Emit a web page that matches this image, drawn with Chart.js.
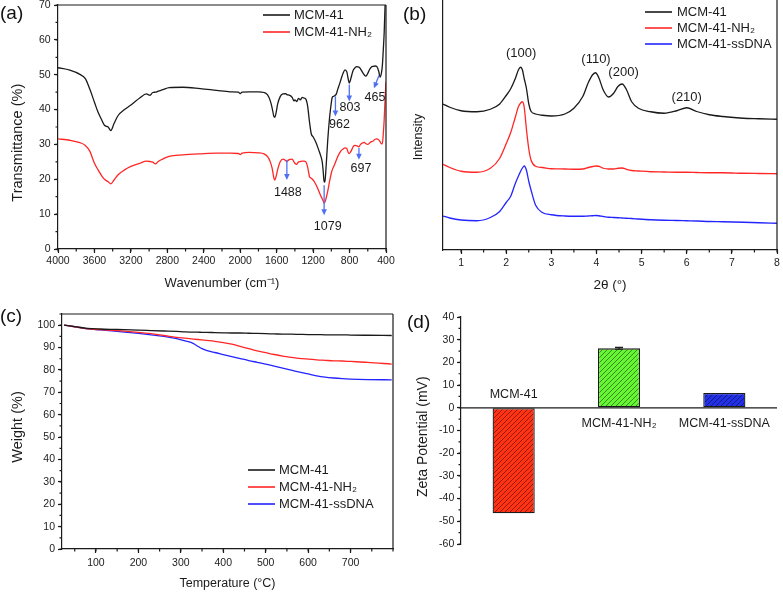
<!doctype html>
<html lang="en">
<head>
<meta charset="UTF-8" />
<title>MCM-41 characterisation</title>
<script src="https://cdn.jsdelivr.net/npm/chart.js"></script>
<style>
  html, body { margin: 0; padding: 0; background: #fff; }
  #fig { position: relative; width: 783px; height: 594px; overflow: hidden; font-family: "Liberation Sans", Arial, sans-serif; }
  #fig canvas { position: absolute; }
  .tag { position: absolute; font-size: 19px; line-height: 1; color: #111; }
</style>
</head>
<body>
<div id="fig">
  <canvas id="ftir"></canvas>
  <canvas id="xrd"></canvas>
  <canvas id="tga"></canvas>
  <canvas id="zeta"></canvas>
  <div class="tag" style="left:0px;top:3px">(a)</div>
  <div class="tag" style="left:403px;top:4px">(b)</div>
  <div class="tag" style="left:0px;top:306px">(c)</div>
  <div class="tag" style="left:407px;top:312px">(d)</div>
</div>
<script>
// ---- (a) FTIR ----
const ftirWavenumber = [4000, 3870, 3760, 3700, 3650, 3600, 3560, 3520, 3490, 3450, 3420, 3385, 3340, 3270, 3200, 3100, 3030, 2990, 2960, 2930, 2900, 2850, 2780, 2630, 2440, 2260, 2110, 2020, 2000, 1980, 1900, 1800, 1740, 1700, 1670, 1650, 1630, 1620, 1600, 1590, 1560, 1530, 1500, 1488, 1470, 1450, 1430, 1410, 1400, 1380, 1360, 1340, 1320, 1300, 1280, 1260, 1240, 1220, 1200, 1180, 1160, 1140, 1120, 1100, 1090, 1079, 1070, 1060, 1040, 1020, 1000, 990, 975, 962, 945, 930, 910, 890, 870, 850, 830, 815, 803, 790, 775, 760, 740, 720, 697, 680, 660, 640, 620, 600, 580, 560, 540, 520, 500, 480, 465, 450, 440, 430, 420, 410, 400];
const ftirMcm41 = [52.0, 51.3, 50.1, 48.9, 45.8, 42.1, 39.2, 37.0, 35.5, 35.0, 34.0, 36.0, 38.3, 40.0, 41.3, 43.4, 44.5, 44.1, 44.9, 45.0, 45.3, 45.7, 46.3, 46.4, 46.0, 45.5, 45.1, 45.0, 44.6, 45.0, 45.1, 45.1, 44.9, 44.2, 42.5, 40.5, 38.0, 37.8, 40.0, 41.5, 43.8, 44.5, 44.6, 44.3, 44.2, 44.0, 43.5, 42.5, 42.8, 42.3, 43.2, 42.8, 43.5, 43.3, 43.0, 41.0, 36.5, 33.0, 32.2, 31.2, 30.0, 28.5, 27.0, 25.0, 22.5, 19.2, 19.5, 22.5, 31.0, 37.5, 42.0, 43.5, 43.8, 44.0, 44.5, 45.8, 47.3, 49.0, 50.5, 51.4, 50.8, 48.8, 47.6, 48.5, 50.0, 51.3, 52.0, 52.3, 52.2, 51.7, 50.8, 50.0, 49.6, 50.4, 51.5, 52.2, 52.4, 52.5, 52.3, 51.0, 49.3, 50.5, 52.6, 57.0, 62.0, 70.0, 74.0];
const ftirMcm41Nh2 = [31.6, 31.2, 30.5, 29.7, 28.0, 24.6, 22.7, 21.0, 20.0, 19.3, 18.7, 19.8, 21.3, 22.7, 23.7, 24.6, 25.2, 25.1, 24.9, 24.4, 25.1, 25.8, 26.6, 27.0, 27.3, 27.5, 27.5, 27.4, 27.1, 27.5, 27.7, 27.6, 27.3, 26.5, 25.0, 23.2, 20.3, 19.8, 21.5, 22.7, 25.1, 25.8, 25.3, 25.1, 25.5, 25.7, 25.8, 25.0, 24.6, 24.3, 25.0, 25.1, 25.2, 25.2, 25.0, 23.5, 20.8, 20.3, 19.8, 19.0, 18.0, 16.8, 15.5, 14.4, 13.8, 13.2, 13.5, 14.3, 16.5, 19.3, 21.8, 22.7, 23.6, 24.4, 25.5, 26.5, 27.5, 28.3, 28.7, 29.0, 28.8, 27.7, 27.4, 27.8, 28.5, 29.4, 29.7, 29.6, 29.3, 30.0, 30.4, 30.6, 30.2, 30.0, 30.4, 30.8, 31.0, 31.5, 31.6, 31.3, 30.8, 30.2, 30.2, 33.0, 37.0, 43.0, 48.0];
const ftirTicksX = [4000, 3600, 3200, 2800, 2400, 2000, 1600, 1200, 800, 400];
const ftirTicksY = [0, 10, 20, 30, 40, 50, 60, 70];
const ftirPeakLabels = ['1488', '1079', '962', '803', '697', '465'];

// ---- (b) XRD ----
const xrdTwoTheta = [0.6, 0.75, 1.0, 1.35, 1.65, 1.85, 2.0, 2.1, 2.2, 2.27, 2.32, 2.36, 2.4, 2.45, 2.5, 2.55, 2.65, 2.8, 3.0, 3.3, 3.5, 3.7, 3.82, 3.92, 3.98, 4.05, 4.15, 4.27, 4.38, 4.48, 4.57, 4.66, 4.78, 4.93, 5.2, 5.5, 5.78, 6.0, 6.22, 6.5, 6.8, 7.25, 7.6, 8.0];
const xrdMcm41 = [58.4, 57.1, 55.7, 55.3, 56.3, 58.3, 61.8, 64.5, 68.5, 72.0, 73.1, 72.0, 68.5, 64.5, 58.5, 55.5, 54.4, 53.9, 53.6, 54.4, 56.7, 61.5, 67.0, 70.2, 70.9, 69.0, 64.0, 61.2, 62.7, 65.5, 66.4, 64.3, 59.3, 56.7, 55.3, 54.7, 55.7, 56.9, 55.4, 54.1, 53.4, 52.7, 52.5, 52.3];
const xrdMcm41Nh2 = [34.3, 33.0, 31.5, 31.1, 32.7, 36.5, 42.5, 47.0, 53.0, 57.3, 58.8, 59.3, 57.0, 48.0, 40.5, 36.0, 33.5, 33.0, 32.5, 32.4, 32.3, 32.4, 33.0, 33.4, 33.6, 33.5, 32.7, 32.4, 32.4, 32.7, 32.8, 32.3, 31.8, 31.6, 31.3, 31.2, 31.1, 31.1, 31.0, 30.9, 30.9, 30.7, 30.6, 30.5];
const xrdMcm41Dna = [13.6, 12.8, 12.0, 11.7, 13.0, 15.3, 19.0, 21.5, 26.5, 29.5, 31.5, 32.8, 33.6, 31.8, 27.5, 24.0, 18.0, 15.0, 14.1, 13.6, 13.5, 13.5, 13.6, 13.7, 13.8, 13.7, 13.4, 13.1, 13.0, 12.9, 12.8, 12.7, 12.6, 12.4, 12.1, 11.9, 11.8, 11.7, 11.6, 11.4, 11.3, 11.1, 10.9, 10.7];
const xrdTicksX = [1, 2, 3, 4, 5, 6, 7, 8];
const xrdPeakLabels = ['(100)', '(110)', '(200)', '(210)'];

// ---- (c) TGA ----
const tgaTemp = [25, 50, 80, 110, 150, 200, 230, 260, 290, 310, 330, 340, 350, 360, 380, 400, 420, 440, 460, 480, 500, 520, 540, 560, 580, 600, 620, 640, 660, 680, 700, 740, 797];
const tgaMcm41 = [100, 99.4, 98.6, 98.3, 98.1, 97.8, 97.6, 97.4, 97.2, 97.0, 96.9, 96.9, 96.8, 96.8, 96.7, 96.6, 96.5, 96.5, 96.4, 96.3, 96.2, 96.1, 96.0, 96.0, 95.9, 95.8, 95.8, 95.7, 95.7, 95.7, 95.6, 95.5, 95.4];
const tgaMcm41Nh2 = [100, 99.3, 98.4, 98.0, 97.6, 96.8, 96.2, 95.4, 94.6, 94.2, 93.8, 93.6, 93.4, 93.2, 92.8, 92.2, 91.5, 90.5, 89.5, 88.5, 87.7, 86.9, 86.2, 85.6, 85.2, 84.8, 84.5, 84.3, 84.1, 84.0, 83.8, 83.4, 82.6];
const tgaMcm41Dna = [100, 99.3, 98.4, 97.9, 97.2, 96.3, 95.7, 95.0, 94.0, 93.0, 91.8, 90.6, 89.5, 88.8, 87.8, 86.9, 86.0, 85.1, 84.2, 83.4, 82.6, 81.7, 80.8, 79.9, 79.0, 78.2, 77.4, 76.8, 76.4, 76.1, 75.9, 75.7, 75.6];
const tgaTicksX = [100, 200, 300, 400, 500, 600, 700];
const tgaTicksY = [0, 10, 20, 30, 40, 50, 60, 70, 80, 90, 100];

// ---- (d) Zeta potential ----
const zetaLabels = ['MCM-41', 'MCM-41-NH\u2082', 'MCM-41-ssDNA'];
const zetaValues = [-46.5, 26.2, 6.5];
const zetaErrors = [0, 0.4, 0];
const zetaTicksY = [-60, -50, -40, -30, -20, -10, 0, 10, 20, 30, 40];

const seriesNames = ['MCM-41', 'MCM-41-NH\u2082', 'MCM-41-ssDNA'];

// ---- styling ----
const INK = '#1b1b1b';
const BLACK = '#1a1a1a', RED = '#ff2626', BLUE = '#2424ff';
const ARROW = '#4f70f5';
const FONT = '"Liberation Sans", Arial, sans-serif';
Chart.defaults.font.family = FONT;
Chart.defaults.color = INK;
Chart.defaults.animation = false;

function place(id, g) {
  const c = document.getElementById(id);
  const left = g.l - g.yW, top = g.t - g.padT;
  c.width = g.r + g.padR - left;
  c.height = g.b + g.xH + (g.padB || 0) - top;
  c.style.left = left + 'px';
  c.style.top = top + 'px';
  return c;
}

function series(xs, ys, label, color) {
  return {
    label, data: xs.map((x, i) => ({ x, y: ys[i] })),
    borderColor: color, backgroundColor: color, borderWidth: 1.3,
    pointRadius: 0, cubicInterpolationMode: 'monotone', fill: false
  };
}

function axis(o) {
  const hasTicks = o.ticks.length > 0;
  return {
    type: 'linear', min: o.min, max: o.max, reverse: !!o.reverse,
    afterBuildTicks: s => { s.ticks = o.ticks.map(v => ({ value: v })); },
    afterFit: s => { if (o.horizontal) s.height = o.size; else s.width = o.size; },
    grid: { display: hasTicks, drawOnChartArea: false, drawTicks: true, tickLength: 4, tickColor: INK, tickWidth: 1.2 },
    border: { display: true, color: INK, width: 1.2 },
    ticks: { display: hasTicks, padding: o.pad, font: { size: 10.5 }, color: INK, maxRotation: 0, autoSkip: false, callback: v => String(v) },
    title: o.title ? { display: true, text: o.title, font: { size: o.titleSize }, color: INK, padding: { top: 0, bottom: o.titlePad } } : { display: false }
  };
}

// extra drawing: frame, minor ticks, legend, y title, annotations
function decor(cfg) {
  return {
    id: 'decor',
    afterDraw(chart) {
      const { ctx, chartArea: a, scales } = chart;
      const ox = chart.canvas.offsetLeft, oy = chart.canvas.offsetTop;
      const xs = scales.x, ys = scales.y;
      ctx.save();
      ctx.strokeStyle = INK;
      ctx.lineWidth = 1.2;
      ctx.beginPath();
      if (cfg.frameTop) { ctx.moveTo(a.left, a.top); ctx.lineTo(a.right, a.top); }
      if (cfg.frameRight) { ctx.moveTo(a.right, a.top); ctx.lineTo(a.right, a.bottom); }
      // minor ticks
      if (cfg.minorX) {
        for (let v = Math.ceil(xs.min / cfg.minorX) * cfg.minorX; v <= xs.max + 1e-9; v += cfg.minorX) {
          const p = xs.getPixelForValue(v);
          ctx.moveTo(p, a.bottom); ctx.lineTo(p, a.bottom + 2.5);
        }
      }
      if (cfg.minorY) {
        for (let v = Math.ceil(ys.min / cfg.minorY) * cfg.minorY; v <= ys.max + 1e-9; v += cfg.minorY) {
          const p = ys.getPixelForValue(v);
          ctx.moveTo(a.left, p); ctx.lineTo(a.left - 2.5, p);
        }
      }
      ctx.stroke();

      // y-axis title
      if (cfg.yTitle) {
        const t = cfg.yTitle;
        ctx.save();
        ctx.translate(t.x - ox, t.y - oy);
        ctx.rotate(-Math.PI / 2);
        ctx.font = t.size + 'px ' + FONT;
        ctx.fillStyle = INK;
        ctx.textAlign = 'center';
        ctx.textBaseline = 'middle';
        ctx.fillText(t.text, 0, 0);
        ctx.restore();
      }

      // legend
      if (cfg.legend) {
        const L = cfg.legend;
        ctx.font = '13px ' + FONT;
        ctx.textAlign = 'left';
        ctx.textBaseline = 'middle';
        chart.data.datasets.forEach((ds, i) => {
          const y = L.rows[i] - oy;
          ctx.strokeStyle = ds.borderColor;
          ctx.lineWidth = 1.6;
          ctx.beginPath();
          ctx.moveTo(L.x0 - ox, y); ctx.lineTo(L.x1 - ox, y);
          ctx.stroke();
          ctx.fillStyle = INK;
          ctx.fillText(ds.label, L.tx - ox, y + 0.5);
        });
      }

      // arrows (data coordinates)
      (cfg.arrows || []).forEach(ar => {
        const x0 = xs.getPixelForValue(ar[0]), y0 = ys.getPixelForValue(ar[1]);
        const x1 = xs.getPixelForValue(ar[2]), y1 = ys.getPixelForValue(ar[3]);
        const ang = Math.atan2(y1 - y0, x1 - x0);
        ctx.strokeStyle = ARROW; ctx.fillStyle = ARROW; ctx.lineWidth = 1.3;
        ctx.beginPath(); ctx.moveTo(x0, y0); ctx.lineTo(x1 - 4 * Math.cos(ang), y1 - 4 * Math.sin(ang)); ctx.stroke();
        ctx.beginPath();
        ctx.moveTo(x1, y1);
        ctx.lineTo(x1 - 6 * Math.cos(ang) + 2.8 * Math.sin(ang), y1 - 6 * Math.sin(ang) - 2.8 * Math.cos(ang));
        ctx.lineTo(x1 - 6 * Math.cos(ang) - 2.8 * Math.sin(ang), y1 - 6 * Math.sin(ang) + 2.8 * Math.cos(ang));
        ctx.closePath(); ctx.fill();
      });

      // text notes (data coordinates)
      if (cfg.notes) {
        ctx.font = cfg.noteSize + 'px ' + FONT;
        ctx.fillStyle = INK;
        ctx.textAlign = 'center';
        ctx.textBaseline = 'middle';
        cfg.notes.texts.forEach((txt, i) => {
          const at = cfg.notes.at[i];
          ctx.fillText(txt, xs.getPixelForValue(at[0]), ys.getPixelForValue(at[1]));
        });
      }
      if (cfg.after) cfg.after(chart, ctx);
      ctx.restore();
    }
  };
}

// ---------- (a) ----------
const gA = { l: 58, t: 5, r: 386, b: 249, yW: 58, xH: 45, padT: 10, padR: 14 };
new Chart(place('ftir', gA), {
  type: 'line',
  data: { datasets: [
    series(ftirWavenumber, ftirMcm41, seriesNames[0], BLACK),
    series(ftirWavenumber, ftirMcm41Nh2, seriesNames[1], RED)
  ] },
  options: {
    responsive: false, animation: false,
    layout: { padding: { top: gA.padT, right: gA.padR, left: 0, bottom: 0 } },
    plugins: { legend: { display: false }, tooltip: { enabled: false } },
    scales: {
      x: axis({ min: 400, max: 4000, reverse: true, ticks: ftirTicksX, horizontal: true, size: gA.xH, pad: 1.5, title: 'Wavenumber (cm\u207B\u00B9)', titleSize: 13, titlePad: 2.9 }),
      y: axis({ min: 0, max: 70, ticks: ftirTicksY, size: gA.yW, pad: 3.3 })
    }
  },
  plugins: [decor({
    frameTop: true, frameRight: true, minorX: 200, minorY: 5,
    yTitle: { text: 'Transmittance (%)', x: 17.5, y: 142.7, size: 14.5 },
    legend: { x0: 263, x1: 290, tx: 294, rows: [15, 32] },
    arrows: [[1488, 25.6, 1488, 19.8], [1079, 18.3, 1079, 9.7], [955, 43.8, 955, 38.0], [803, 47.2, 803, 42.3], [697, 29.0, 697, 25.6], [477, 49.8, 532, 46.1]],
    noteSize: 12.5,
    notes: { texts: ftirPeakLabels, at: [[1477, 16.3], [1040, 6.3], [910, 35.7], [795, 40.6], [675, 23.0], [521, 43.5]] }
  })]
});

// ---------- (b) ----------
const gB = { l: 443, t: 0, r: 777, b: 250, yW: 33, xH: 45, padT: 6, padR: 6 };
new Chart(place('xrd', gB), {
  type: 'line',
  data: { datasets: [
    series(xrdTwoTheta, xrdMcm41, seriesNames[0], BLACK),
    series(xrdTwoTheta, xrdMcm41Nh2, seriesNames[1], RED),
    series(xrdTwoTheta, xrdMcm41Dna, seriesNames[2], BLUE)
  ] },
  options: {
    responsive: false, animation: false,
    layout: { padding: { top: gB.padT, right: gB.padR, left: 0, bottom: 0 } },
    plugins: { legend: { display: false }, tooltip: { enabled: false } },
    scales: {
      x: axis({ min: 0.6, max: 8, ticks: xrdTicksX, horizontal: true, size: gB.xH, pad: 3, title: '2\u03B8 (\u00B0)', titleSize: 13.5, titlePad: 1.9 }),
      y: axis({ min: 0, max: 100, ticks: [], size: gB.yW, pad: 3 })
    }
  },
  plugins: [decor({
    frameTop: false, frameRight: true, minorX: 0.5,
    yTitle: { text: 'Intensity', x: 419, y: 137, size: 12.5 },
    legend: { x0: 645, x1: 672, tx: 677, rows: [12, 28, 44] },
    noteSize: 13,
    notes: { texts: xrdPeakLabels, at: [[2.33, 78.8], [3.99, 76.4], [4.6, 71.2], [6.0, 61.2]] }
  })]
});

// ---------- (c) ----------
const gC = { l: 62, t: 314, r: 393, b: 549, yW: 62, xH: 45, padT: 10, padR: 8 };
new Chart(place('tga', gC), {
  type: 'line',
  data: { datasets: [
    series(tgaTemp, tgaMcm41, seriesNames[0], BLACK),
    series(tgaTemp, tgaMcm41Nh2, seriesNames[1], RED),
    series(tgaTemp, tgaMcm41Dna, seriesNames[2], BLUE)
  ] },
  options: {
    responsive: false, animation: false,
    layout: { padding: { top: gC.padT, right: gC.padR, left: 0, bottom: 0 } },
    plugins: { legend: { display: false }, tooltip: { enabled: false } },
    scales: {
      x: axis({ min: 20, max: 800, ticks: tgaTicksX, horizontal: true, size: gC.xH, pad: 4, title: 'Temperature (\u00B0C)', titleSize: 12.5, titlePad: 3.2 }),
      y: axis({ min: 0, max: 105, ticks: tgaTicksY, size: gC.yW, pad: 3 })
    }
  },
  plugins: [decor({
    frameTop: true, frameRight: true, minorX: 50, minorY: 5,
    yTitle: { text: 'Weight (%)', x: 18, y: 427, size: 14.5 },
    legend: { x0: 248, x1: 275, tx: 279, rows: [470, 487, 504] }
  })]
});

// ---------- (d) ----------
const gD = { l: 461, t: 317, r: 777, b: 544, yW: 46, xH: 0, padT: 10, padR: 6, padB: 50 };
const zetaCanvas = place('zeta', gD);
const zctx = zetaCanvas.getContext('2d');
function hatch(fill) {
  const p = document.createElement('canvas');
  p.width = 5; p.height = 5;
  const g = p.getContext('2d');
  g.fillStyle = fill; g.fillRect(0, 0, 5, 5);
  g.strokeStyle = 'rgba(0,0,0,0.55)'; g.lineWidth = 0.8;
  g.beginPath();
  g.moveTo(-1, 6); g.lineTo(6, -1);
  g.moveTo(-3.5, 3.5); g.lineTo(3.5, -3.5);
  g.moveTo(1.5, 8.5); g.lineTo(8.5, 1.5);
  g.stroke();
  return zctx.createPattern(p, 'repeat');
}
new Chart(zetaCanvas, {
  type: 'bar',
  data: { labels: zetaLabels, datasets: [{
    data: zetaValues,
    backgroundColor: [hatch('#ff3314'), hatch('#66f532'), hatch('#2230e8')],
    borderColor: INK, borderWidth: 1.3, borderSkipped: false,
    barPercentage: 0.4, categoryPercentage: 1
  }] },
  options: {
    responsive: false, animation: false,
    layout: { padding: { top: gD.padT, right: gD.padR, left: 0, bottom: gD.padB } },
    plugins: { legend: { display: false }, tooltip: { enabled: false } },
    scales: {
      x: { display: false },
      y: axis({ min: -60, max: 40, ticks: zetaTicksY, size: gD.yW, pad: 2.7 })
    }
  },
  plugins: [decor({
    minorY: 5,
    yTitle: { text: 'Zeta Potential (mV)', x: 423, y: 436.7, size: 14 },
    after(chart, ctx) {
      const { chartArea: a, scales: { x, y } } = chart;
      const y0 = y.getPixelForValue(0);
      ctx.strokeStyle = INK; ctx.lineWidth = 1.2;
      ctx.beginPath(); ctx.moveTo(a.left, y0); ctx.lineTo(a.right, y0); ctx.stroke();
      // error bars
      ctx.lineWidth = 1.2;
      zetaValues.forEach((v, i) => {
        if (!zetaErrors[i]) return;
        const cx = x.getPixelForValue(i);
        const hi = y.getPixelForValue(v + zetaErrors[i]), lo = y.getPixelForValue(v - zetaErrors[i]);
        ctx.beginPath();
        ctx.moveTo(cx, hi); ctx.lineTo(cx, lo);
        ctx.moveTo(cx - 4, hi); ctx.lineTo(cx + 4, hi);
        ctx.moveTo(cx - 4, lo); ctx.lineTo(cx + 4, lo);
        ctx.stroke();
      });
      // category labels beside the zero line
      ctx.font = '12.5px ' + FONT;
      ctx.fillStyle = INK;
      ctx.textAlign = 'center';
      ctx.textBaseline = 'middle';
      zetaLabels.forEach((lab, i) => {
        const cx = x.getPixelForValue(i);
        ctx.fillText(lab, cx, zetaValues[i] < 0 ? y0 - 13 : y0 + 15.5);
      });
    }
  })]
});
</script>
</body>
</html>
